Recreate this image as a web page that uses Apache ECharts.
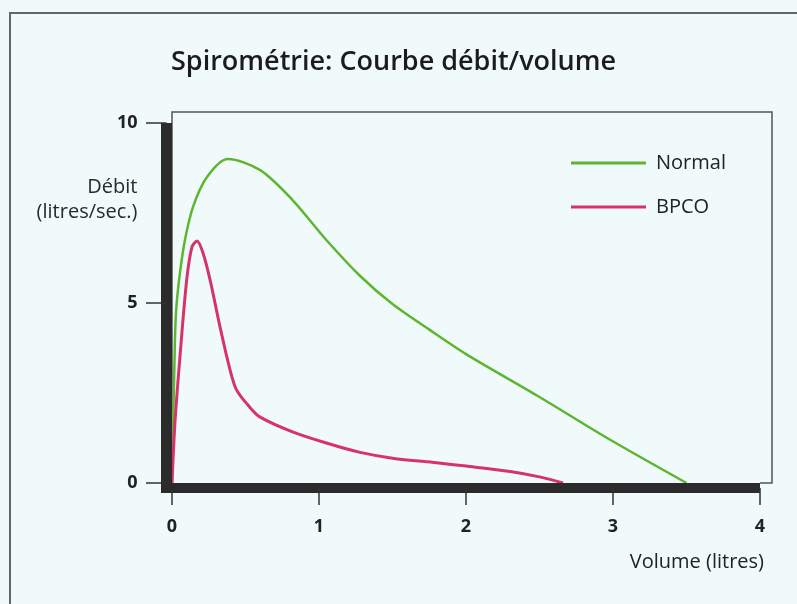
<!DOCTYPE html>
<html>
<head>
<meta charset="utf-8">
<script src="https://cdn.jsdelivr.net/npm/echarts@6/dist/echarts.min.js"></script>
<style>
html,body{margin:0;padding:0;background:#f0fafa;}
#chart{width:797px;height:604px;}
</style>
</head>
<body>
<div id="chart"></div>
<script>
// Data
var volumeNormal = [0, 0.02, 0.03, 0.054, 0.088, 0.143, 0.238, 0.38, 0.6, 0.82, 1.05, 1.28, 1.5, 1.75, 2.0, 2.5, 2.96, 3.5];
var debitNormal  = [0, 3.97, 4.9, 5.83, 6.75, 7.67, 8.5, 9.0, 8.69, 7.86, 6.75, 5.75, 4.97, 4.26, 3.58, 2.39, 1.25, 0];
var volumeBPCO = [0, 0.02, 0.054, 0.1, 0.136, 0.17, 0.21, 0.259, 0.327, 0.395, 0.44, 0.53, 0.6, 0.82, 1.05, 1.28, 1.5, 1.8, 2.0, 2.3, 2.5, 2.66];
var debitBPCO  = [0, 1.67, 3.5, 5.64, 6.56, 6.72, 6.4, 5.64, 4.33, 3.14, 2.58, 2.1, 1.83, 1.42, 1.11, 0.85, 0.69, 0.56, 0.47, 0.32, 0.17, 0];
var seriesNames = ['Normal', 'BPCO'];
var titleText = 'Spirométrie: Courbe débit/volume';
var yAxisName = 'Débit\n(litres/sec.)';
var xAxisName = 'Volume (litres)';

function pairs(xs, ys){ return xs.map(function(x,i){ return [x, ys[i]]; }); }

var FONT = 'Open Sans';
var chart = echarts.init(document.getElementById('chart'), null, {renderer:'canvas'});
chart.setOption({
  backgroundColor: '#f0fafa',
  animation: false,
  title: {
    text: titleText,
    left: 166, top: 44,
    textStyle: {fontFamily: FONT, fontSize: 27, fontWeight: 600, color: '#1c1c1c'}
  },
  legend: {
    orient: 'vertical',
    left: 566, top: 148,
    icon: 'rect',
    itemWidth: 75, itemHeight: 3,
    itemGap: 24,
    data: seriesNames,
    textStyle: {fontFamily: FONT, fontSize: 20, color: '#222', padding: [0,0,0,5]}
  },
  grid: {left: 172, right: 37, top: 123, bottom: 121, containLabel: false},
  xAxis: {
    type: 'value', min: 0, max: 4, interval: 1,
    z: 5,
    offset: 5,
    axisLine: {show: true, onZero: false, lineStyle: {color: '#2b2b2b', width: 10, cap: 'butt'}},
    axisTick: {show: true, length: 17, lineStyle: {color: '#333', width: 1.5}},
    axisLabel: {margin: 30, fontFamily: FONT, fontSize: 18, fontWeight: 'bold', color: '#222'},
    splitLine: {show: false},
    name: xAxisName,
    nameLocation: 'end',
    nameGap: 4,
    nameTextStyle: {fontFamily: FONT, fontSize: 20, color: '#222', align: 'right', verticalAlign: 'top', padding: [64,0,0,0]}
  },
  yAxis: {
    type: 'value', min: 0, max: 10, interval: 5,
    z: 5,
    offset: 5.5,
    axisLine: {show: true, onZero: false, lineStyle: {color: '#2b2b2b', width: 11, cap: 'butt'}},
    axisTick: {show: true, length: 20.5, lineStyle: {color: '#333', width: 1.5}},
    axisLabel: {margin: 29, fontFamily: FONT, fontSize: 18, fontWeight: 'bold', color: '#222'},
    splitLine: {show: false},
    name: yAxisName,
    nameLocation: 'end',
    nameGap: -102,
    nameTextStyle: {fontFamily: FONT, fontSize: 20, color: '#2a2a2a', align: 'right', lineHeight: 25, padding: [0,29,0,0]}
  },
  graphic: [
    {type: 'rect', shape: {x: 10, y: 13, width: 820, height: 640}, style: {fill: null, stroke: '#666', lineWidth: 2}, z: -1},
    {type: 'polyline', shape: {points: [[172,483],[172,112],[772,112],[772,483],[760,483]]}, style: {fill: null, stroke: '#555', lineWidth: 1.5}, z: -1},
    {type: 'rect', shape: {x: 161, y: 483, width: 11, height: 10}, style: {fill: '#2b2b2b'}, z: 10}
  ],
  series: [
    {
      name: seriesNames[0], type: 'line',
      data: pairs(volumeNormal, debitNormal),
      smooth: 0.3,
      symbol: 'none', color: '#5db531',
      lineStyle: {width: 2.5, color: '#5db531'}
    },
    {
      name: seriesNames[1], type: 'line',
      data: pairs(volumeBPCO, debitBPCO),
      smooth: 0.3,
      symbol: 'none', color: '#d6336a',
      lineStyle: {width: 3, color: '#d6336a'}
    }
  ]
});
</script>
</body>
</html>
